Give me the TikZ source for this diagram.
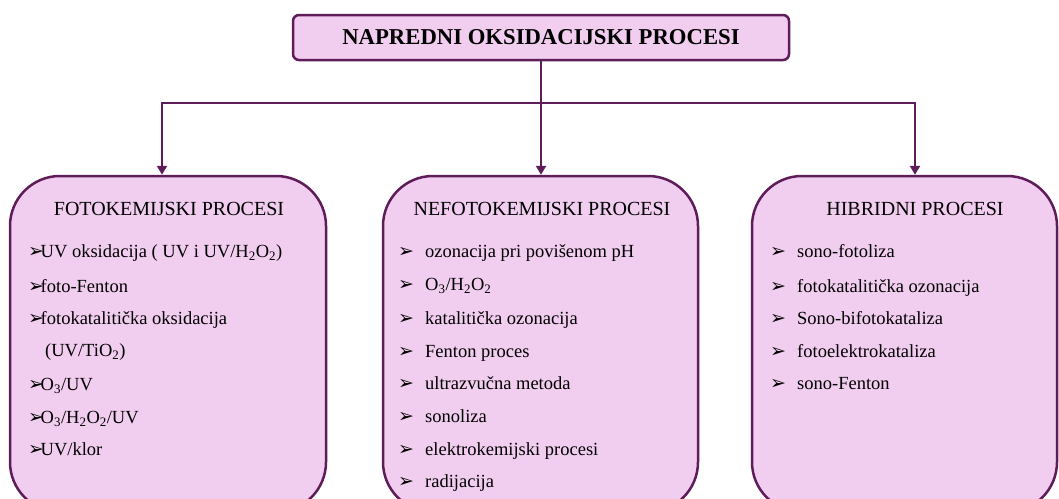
\documentclass[tikz,border=0pt]{standalone}
\usepackage{fontspec}
\setmainfont{Liberation Serif}
\newfontfamily\strelicefont{DejaVu Sans}
\usetikzlibrary{arrows.meta,calc}
\definecolor{ljubicasta}{RGB}{94,28,88}
\definecolor{ruzicasta}{RGB}{241,205,239}
\newcommand{\strelica}{\makebox[10.5pt][l]{\strelicefont\bfseries\fontsize{19}{19}\selectfont\hspace{-2.2pt}➢}}
\newcommand{\razmak}[1]{\makebox[25pt][l]{\strelica}#1}

\begin{document}
\begin{tikzpicture}[x=1pt, y=-1pt,
	kutija/.style={draw=ljubicasta, fill=ruzicasta, line width=2.5pt, rounded corners=50pt},
	naslov/.style={font=\fontsize{20}{24}\selectfont},
	stavka/.style={anchor=west, inner sep=0pt, font=\fontsize{18.5}{22}\selectfont, text height=13pt, text depth=4pt},
	veza/.style={draw=ljubicasta, line width=2.5pt},
	vrh/.style={-{Triangle[width=10pt,length=9pt]}}]
	\useasboundingbox (0,0) rectangle (1059,498);
	\clip (0,0) rectangle (1059,498);

	%Kutije
	\node[kutija, rounded corners=6pt, minimum width=496pt, minimum height=45pt, font=\bfseries\fontsize{22.7}{26}\selectfont] (npo) at (541,37.5) {NAPREDNI OKSIDACIJSKI PROCESI};
	\node[kutija, minimum width=316pt, minimum height=336pt] (foto) at (168,344) {};
	\node[kutija, minimum width=315pt, minimum height=336pt] (nefoto) at (540.5,344) {};
	\node[kutija, minimum width=305pt, minimum height=336pt] (hibrid) at (904.5,344) {};

	%Veze
	\coordinate (grana) at (541,103);
	\draw[veza] (npo.south) -- (grana);
	\draw[veza, vrh] (grana) -| ($(foto.north)+(-6,0)$);
	\draw[veza, vrh] (grana) -- (grana |- nefoto.north);
	\draw[veza, vrh] (grana) -| ($(hibrid.north)+(10.5,0)$);

	%Naslovi
	\node[naslov] (fotonaslov) at (169,209) {FOTOKEMIJSKI PROCESI};
	\node[naslov] (nefotonaslov) at (542,209) {NEFOTOKEMIJSKI PROCESI};
	\node[naslov] (hibridnaslov) at (915,209) {HIBRIDNI PROCESI};

	%Fotokemijski procesi
	\node[stavka] (f1) at (30,253) {\strelica UV oksidacija ( UV i UV/H\textsubscript{2}O\textsubscript{2})};
	\node[stavka] (f2) at (30,288) {\strelica foto-Fenton};
	\node[stavka] (f3) at (30,320) {\strelica fotokatalitička oksidacija};
	\node[stavka] (f4) at (45,352) {(UV/TiO\textsubscript{2})};
	\node[stavka] (f5) at (30,386) {\strelica O\textsubscript{3}/UV};
	\node[stavka] (f6) at (30,419) {\strelica O\textsubscript{3}/H\textsubscript{2}O\textsubscript{2}/UV};
	\node[stavka] (f7) at (30,451) {\strelica UV/klor};

	%Nefotokemijski procesi
	\node[stavka] (n1) at (400,253) {\razmak{ozonacija pri povišenom pH}};
	\node[stavka] (n2) at (400,286) {\razmak{O\textsubscript{3}/H\textsubscript{2}O\textsubscript{2}}};
	\node[stavka] (n3) at (400,320) {\razmak{katalitička ozonacija}};
	\node[stavka] (n4) at (400,353) {\razmak{Fenton proces}};
	\node[stavka] (n5) at (400,385) {\razmak{ultrazvučna metoda}};
	\node[stavka] (n6) at (400,418) {\razmak{sonoliza}};
	\node[stavka] (n7) at (400,451) {\razmak{elektrokemijski procesi}};
	\node[stavka] (n8) at (400,483) {\razmak{radijacija}};

	%Hibridni procesi
	\node[stavka] (h1) at (772,253) {\razmak{sono-fotoliza}};
	\node[stavka] (h2) at (772,288) {\razmak{fotokatalitička ozonacija}};
	\node[stavka] (h3) at (772,320) {\razmak{Sono-bifotokataliza}};
	\node[stavka] (h4) at (772,353) {\razmak{fotoelektrokataliza}};
	\node[stavka] (h5) at (772,385) {\razmak{sono-Fenton}};
\end{tikzpicture}
\end{document}
